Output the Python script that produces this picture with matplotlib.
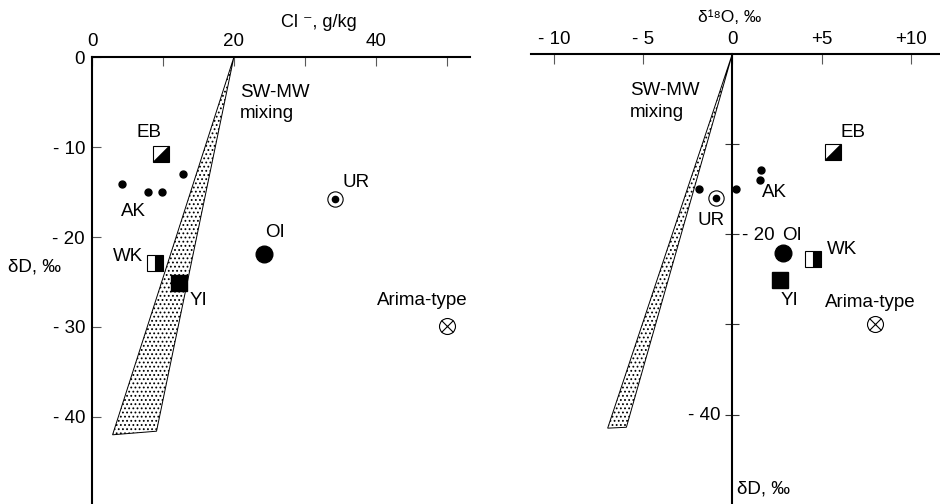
import matplotlib
matplotlib.use('Agg')
import matplotlib.pyplot as plt
from matplotlib.path import Path

plt.rcParams['font.family'] = ['Liberation Sans', 'DejaVu Sans']
plt.rcParams['font.size'] = 13.5
plt.rcParams['hatch.linewidth'] = 0.8

# ---------------- data: left panel (Cl-, g/kg  vs  dD, permil) ----------------
ak_cl = [4.2, 7.85, 9.9, 12.9]
ak_dD_l = [-14.1, -15.0, -15.0, -13.0]
eb_cl, eb_dD_l = 9.75, -10.8
ur_cl, ur_dD_l = 34.3, -15.8
oi_cl, oi_dD_l = 24.2, -21.9
wk_cl, wk_dD_l = 8.9, -22.9
yi_cl, yi_dD_l = 12.2, -25.1
arima_cl, arima_dD_l = 50.1, -29.9
band_cl = [20.0, 2.9, 9.1]
band_dD_l = [0.0, -42.0, -41.6]
cl_ticks = [0, 10, 20, 30, 40, 50]
cl_ticklabels = ['0', '', '20', '', '40', '']
dD_ticks_l = [0, -10, -20, -30, -40]
dD_ticklabels_l = ['0', '- 10', '- 20', '- 30', '- 40']

# ---------------- data: right panel (d18O, permil  vs  dD, permil) ----------------
ak_o = [1.61, 1.57, -1.89, 0.17]
ak_dD_r = [-12.9, -14.0, -15.0, -15.0]
eb_o, eb_dD_r = 5.62, -10.9
ur_o, ur_dD_r = -0.91, -16.0
oi_o, oi_dD_r = 2.82, -22.1
wk_o, wk_dD_r = 4.5, -22.8
yi_o, yi_dD_r = 2.69, -25.1
arima_o, arima_dD_r = 8.0, -30.0
band_o = [0.0, -7.0, -5.95]
band_dD_r = [0.0, -41.5, -41.4]
o_ticks = [-10, -5, 0, 5, 10]
o_ticklabels = ['- 10', '- 5', '0', '+5', '+10']
dD_ticks_r = [-10, -20, -30, -40]

W, H = 940, 504
fig = plt.figure(figsize=(W / 100, H / 100), dpi=100)

# triangle marker (lower-right half of a square)
tri = Path([(-0.5, -0.5), (0.5, -0.5), (0.5, 0.5), (-0.5, -0.5)],
           [Path.MOVETO, Path.LINETO, Path.LINETO, Path.CLOSEPOLY])

MS_SQ = 12
EW = 0.8


def draw_points(ax, ak_x, ak_y, eb, ur, oi, wk, yi, ar):
    ax.plot(ak_x, ak_y, 'o', color='black', ms=5, clip_on=False, zorder=5)
    # EB: diagonally half-filled square
    ax.plot([eb[0]], [eb[1]], 's', ms=MS_SQ, mfc='white', mec='black', mew=EW, clip_on=False, zorder=5)
    ax.plot([eb[0]], [eb[1]], marker=tri, ms=MS_SQ, mfc='black', mec='black', mew=0.3,
            ls='none', clip_on=False, zorder=6)
    # UR: circled dot
    ax.plot([ur[0]], [ur[1]], 'o', ms=11, mfc='white', mec='black', mew=EW, clip_on=False, zorder=5)
    ax.plot([ur[0]], [ur[1]], 'o', ms=4.5, color='black', clip_on=False, zorder=6)
    # OI: big filled circle
    ax.plot([oi[0]], [oi[1]], 'o', ms=12, color='black', clip_on=False, zorder=5)
    # WK: right half filled square
    ax.plot([wk[0]], [wk[1]], 's', ms=MS_SQ, fillstyle='right', mfc='black',
            mfcalt='white', mec='black', mew=EW, clip_on=False, zorder=5)
    # YI: filled square
    ax.plot([yi[0]], [yi[1]], 's', ms=MS_SQ, color='black', clip_on=False, zorder=5)
    # Arima-type: circle with cross
    ax.plot([ar[0]], [ar[1]], 'o', ms=11.5, mfc='white', mec='black', mew=EW, clip_on=False, zorder=5)
    ax.plot([ar[0]], [ar[1]], 'x', ms=8, color='black', mew=EW, clip_on=False, zorder=6)


def lab(ax, text, xy, dx_px, dy_px, ha='center'):
    ax.annotate(text, xy=xy, xytext=(dx_px * 0.72, dy_px * 0.72),
                textcoords='offset points', ha=ha, va='baseline', zorder=7)


# ======================= left panel =======================
ax1 = fig.add_axes([92 / W, 0, (470 - 92) / W, 1 - 57.3 / H])
ax1.set_xlim(0, 53.3)
ax1.set_ylim(-49.7, 0)
ax1.patch.set_alpha(0)
for s in ['right', 'bottom']:
    ax1.spines[s].set_visible(False)
for s in ['top', 'left']:
    ax1.spines[s].set_linewidth(1.5)
ax1.xaxis.tick_top()
ax1.set_xticks(cl_ticks)
ax1.set_xticklabels(cl_ticklabels)
ax1.set_yticks(dD_ticks_l)
ax1.set_yticklabels(dD_ticklabels_l)
ax1.tick_params(axis='x', direction='in', length=6.7, width=0.8, pad=5.2, color='0.35')
ax1.tick_params(axis='y', direction='in', length=6.7, width=0.8, pad=5.0, color='0.35')

ax1.fill(band_cl, band_dD_l, facecolor='white', edgecolor='black', linewidth=0.7,
         hatch='....', zorder=2)
draw_points(ax1, ak_cl, ak_dD_l, (eb_cl, eb_dD_l), (ur_cl, ur_dD_l), (oi_cl, oi_dD_l),
            (wk_cl, wk_dD_l), (yi_cl, yi_dD_l), (arima_cl, arima_dD_l))

lab(ax1, 'EB', (eb_cl, eb_dD_l), -12, 17.3)
lab(ax1, 'AK', (ak_cl[0], ak_dD_l[0]), 11.8, -32)
lab(ax1, 'UR', (ur_cl, ur_dD_l), 21, 12)
lab(ax1, 'OI', (oi_cl, oi_dD_l), 11.7, 17)
lab(ax1, 'WK', (wk_cl, wk_dD_l), -12, 1.8, ha='right')
lab(ax1, 'YI', (yi_cl, yi_dD_l), 20, -22.3)
lab(ax1, 'Arima-type', (arima_cl, arima_dD_l), -25, 20.7)
ax1.text(20.86, -4.39, 'SW-MW', ha='left', va='baseline')
ax1.text(20.86, -6.76, 'mixing', ha='left', va='baseline')

fig.text(319 / W, 1 - 27 / H, 'Cl \u207b, g/kg', ha='center', va='baseline', fontsize=13)
fig.text(34.5 / W, 1 - 272 / H, '\u03b4D, \u2030', ha='center', va='baseline', fontsize=13.5)

# ======================= right panel =======================
ax2 = fig.add_axes([531 / W, 0, (W - 531) / W, 1 - 53.5 / H])
ax2.set_xlim(-11.3, 11.64)
ax2.set_ylim(-49.9, 0)
ax2.patch.set_alpha(0)
for s in ['right', 'bottom']:
    ax2.spines[s].set_visible(False)
for s in ['top', 'left']:
    ax2.spines[s].set_linewidth(1.5)
ax2.spines['left'].set_position(('data', 0))
ax2.xaxis.tick_top()
ax2.set_xticks(o_ticks)
ax2.set_xticklabels(o_ticklabels)
ax2.set_yticks(dD_ticks_r)
ax2.set_yticklabels([])
ax2.tick_params(axis='x', direction='in', length=7, width=0.8, pad=3.8, color='0.35')
ax2.tick_params(axis='y', direction='inout', length=9.6, width=0.8, color='0.2')

ax2.fill(band_o, band_dD_r, facecolor='white', edgecolor='black', linewidth=0.7,
         hatch='....', zorder=2)
draw_points(ax2, ak_o, ak_dD_r, (eb_o, eb_dD_r), (ur_o, ur_dD_r), (oi_o, oi_dD_r),
            (wk_o, wk_dD_r), (yi_o, yi_dD_r), (arima_o, arima_dD_r))

lab(ax2, 'EB', (eb_o, eb_dD_r), 20.7, 14.7)
lab(ax2, 'AK', (ak_o[1], ak_dD_r[1]), 14.5, -16.7)
lab(ax2, 'UR', (ur_o, ur_dD_r), -5.2, -26.8)
lab(ax2, 'OI', (oi_o, oi_dD_r), 9.2, 13.2)
lab(ax2, 'WK', (wk_o, wk_dD_r), 29.2, 5.3)
lab(ax2, 'YI', (yi_o, yi_dD_r), 9, -25)
lab(ax2, 'Arima-type', (arima_o, arima_dD_r), -5.2, 17.3)
lab(ax2, '- 20', (0, dD_ticks_r[1]), 25.5, -5.6)
lab(ax2, '- 40', (0, dD_ticks_r[3]), -28.5, -5.7)
ax2.text(-5.75, -4.6, 'SW-MW', ha='left', va='baseline')
ax2.text(-5.75, -7.0, 'mixing', ha='left', va='baseline')
ax2.text(0.25, -48.7, '\u03b4D, \u2030', ha='left', va='baseline')

fig.text(730 / W, 1 - 22 / H, '\u03b4\u00b9\u2078O, \u2030', ha='center', va='baseline', fontsize=12.5)

fig.savefig('out.png', dpi=100)
